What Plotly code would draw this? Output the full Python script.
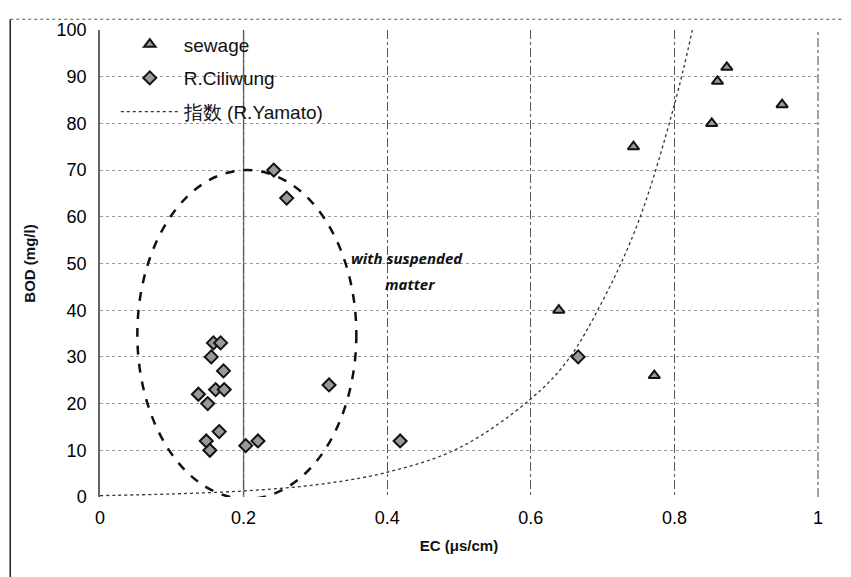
import plotly.graph_objects as go

# ---- data ----
sewage_ec = [0.639, 0.743, 0.772, 0.852, 0.860, 0.873, 0.950]
sewage_bod = [40, 75, 26, 80, 89, 92, 84]

ciliwung_ec = [0.158, 0.168, 0.155, 0.172, 0.161, 0.173, 0.137, 0.150,
               0.319, 0.166, 0.148, 0.153, 0.203, 0.220, 0.418, 0.666,
               0.242, 0.260]
ciliwung_bod = [33, 33, 30, 27, 23, 23, 22, 20,
                24, 14, 12, 10, 11, 12, 12, 30,
                70, 64]

# exponential trend line (R.Yamato)
yamato_ec = [0.0, 0.1, 0.2, 0.3, 0.4, 0.5, 0.6, 0.65, 0.7, 0.75, 0.8, 0.825]
yamato_bod = [0.3, 0.65, 1.3, 2.6, 5.3, 10.5, 21, 29, 42, 59, 84, 100]

x_ticks = [0, 0.2, 0.4, 0.6, 0.8, 1]
x_tick_labels = ["0", "0.2", "0.4", "0.6", "0.8", "1"]
y_ticks = [0, 10, 20, 30, 40, 50, 60, 70, 80, 90, 100]
y_tick_labels = ["0", "10", "20", "30", "40", "50", "60", "70", "80", "90", "100"]

ellipse_box = dict(x0=0.052, x1=0.357, y0=-0.4, y1=70)

FONT = "Liberation Sans, Arial, sans-serif"

fig = go.Figure()

fig.add_trace(go.Scatter(
    x=sewage_ec, y=sewage_bod, mode="markers", name="sewage", legendgroup="a",
    marker=dict(symbol="triangle-up", size=10, color="#999999",
                line=dict(color="#111111", width=2)),
))
fig.add_trace(go.Scatter(
    x=ciliwung_ec, y=ciliwung_bod, mode="markers", name="R.Ciliwung", legendgroup="b",
    marker=dict(symbol="diamond", size=10, color="#999999",
                line=dict(color="#111111", width=2)),
))
fig.add_trace(go.Scatter(
    x=yamato_ec, y=yamato_bod, mode="lines", name="指数 (R.Yamato)", legendgroup="c",
    line=dict(color="#333333", width=1.3, dash="dot", shape="spline"),
))

# dashed ellipse
fig.add_shape(type="circle", xref="x", yref="y", **ellipse_box,
              line=dict(color="#111111", width=2.5, dash="dash"))

# solid gray line at 0.2
fig.add_shape(type="line", xref="x", yref="y", x0=0.2, x1=0.2, y0=0, y1=100,
              line=dict(color="#777777", width=1.5), layer="below")
# right border of plot area
fig.add_shape(type="line", xref="paper", yref="paper", x0=1, x1=1, y0=0, y1=1,
              line=dict(color="#444444", width=1, dash="dashdot"))
# outer frame (left and top)
fig.add_shape(type="line", xref="paper", yref="paper", x0=-0.125, x1=-0.125,
              y0=-0.2, y1=1.023, line=dict(color="#222222", width=1.5))
fig.add_shape(type="line", xref="paper", yref="paper", x0=-0.125, x1=1.1,
              y0=1.023, y1=1.023, line=dict(color="#555555", width=1.2, dash="dot"))

fig.add_annotation(x=0.427, y=51.2, xref="x", yref="y",
                   text="<b><i>with suspended</i></b>", showarrow=False,
                   font=dict(family="Open Sans, sans-serif", size=15, color="#111111"))
fig.add_annotation(x=0.432, y=45.6, xref="x", yref="y",
                   text="<b><i>matter</i></b>", showarrow=False,
                   font=dict(family="Open Sans, sans-serif", size=15, color="#111111"))

fig.update_layout(
    width=851, height=577,
    margin=dict(l=92, r=41, t=18, b=88),
    paper_bgcolor="white", plot_bgcolor="white",
    font=dict(family=FONT, color="#111111"),
    showlegend=True,
    legend=dict(x=0.022, y=1.01, xanchor="left", yanchor="top",
                bgcolor="rgba(255,255,255,0)", font=dict(size=19, family=FONT),
                tracegroupgap=6, itemwidth=58),
)
fig.update_xaxes(
    range=[0, 1], tickvals=x_ticks, ticktext=x_tick_labels,
    tickfont=dict(size=18, family=FONT, color="#000000"), ticks="", ticklabelstandoff=8,
    showgrid=True, gridcolor="#555555", griddash="dashdot", gridwidth=1,
    zeroline=False, showline=False,
    title=dict(text="<b>EC (μs/cm)</b>", font=dict(size=15, family=FONT), standoff=13),
)
fig.update_yaxes(
    range=[0, 100], tickvals=y_ticks, ticktext=y_tick_labels,
    tickfont=dict(size=18, family=FONT, color="#000000"), ticks="", ticklabelstandoff=8,
    showgrid=True, gridcolor="#999999", griddash="dot", gridwidth=1,
    zeroline=False, showline=True, linecolor="#666666", linewidth=1.5,
    title=dict(text="<b>BOD (mg/l)</b>", font=dict(size=15, family=FONT), standoff=17),
)

fig.write_html("out.html")
